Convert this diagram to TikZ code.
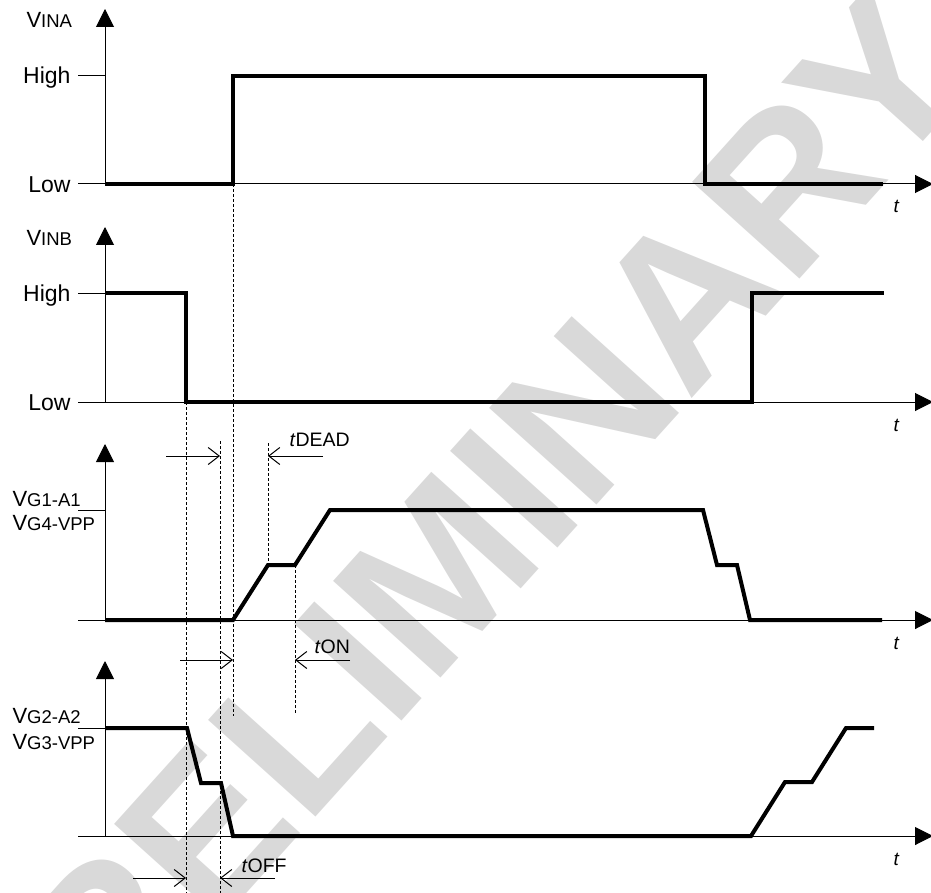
\documentclass[tikz,border=0pt]{standalone}
\usepackage{fontspec}
\setmainfont{Liberation Sans}
\usetikzlibrary{arrows.meta, backgrounds}

\newcommand{\vsig}[1]{{\fontsize{22}{24}\selectfont V\fontsize{18.5}{20}\selectfont #1}}

\begin{document}
\begin{tikzpicture}[
        x=1pt, y=-1pt,
        axis/.style={line width=1pt, -{Triangle[length=18pt, width=18pt]}},
        tick/.style={line width=1pt},
        signal/.style={line width=4pt, line join=miter},
        guide/.style={line width=0.9pt, dash pattern=on 3pt off 2pt},
        dim/.style={line width=1pt, -{Straight Barb[length=11pt, width=17pt]}},
        lvl/.style={anchor=base east, font=\fontsize{23}{25}\selectfont},
        sig/.style={anchor=base west},
        tlab/.style={anchor=base west, font=\fontsize{19}{21}\selectfont\itshape},
        note/.style={anchor=base west, font=\fontsize{19.5}{22}\selectfont}
    ]
        \useasboundingbox (0,0) rectangle (931,893);

        % Watermark
        \begin{scope}[on background layer]
            \node[rotate=48, text=black!15, font=\fontsize{210}{210}\selectfont\bfseries] (draft) at (445,565) {PRELIMINARY};
        \end{scope}

        % Axes
        \foreach \yb/\yt in {184/9, 402/227, 620/444, 836/661} {
            \draw[axis] (105,\yb) -- (105,\yt);
            \draw[axis] (78,\yb) -- (933,\yb);
            \node[tlab] (t\yb) at (890,\yb+29) {t};
        }

        % Input A
        \node[sig] (ina) at (23,28) {\vsig{INA}};
        \node[lvl] (ina high) at (74,84) {High};
        \node[lvl] (ina low) at (74,193) {Low};
        \draw[tick] (78,76) -- (105,76);
        \draw[signal] (105,184) -- (233,184) -- (233,76) -- (705,76) -- (705,184) -- (883,184);

        % Input B
        \node[sig] (inb) at (23,246) {\vsig{INB}};
        \node[lvl] (inb high) at (74,301) {High};
        \node[lvl] (inb low) at (74,410) {Low};
        \draw[tick] (78,293) -- (105,293);
        \draw[signal] (105,293) -- (186,293) -- (186,402) -- (752,402) -- (752,293) -- (884,293);

        % Gate 1/4
        \node[sig] (g14 top) at (9,506) {\vsig{G1-A1}};
        \node[sig] (g14 bot) at (9,530) {\vsig{G4-VPP}};
        \draw[tick] (78,510) -- (105,510);
        \draw[signal] (105,620) -- (233,620) -- (268,565) -- (295,565) -- (330,510) -- (703,510)
            -- (717,565) -- (737,565) -- (750,620) -- (882,620);

        % Gate 2/3
        \node[sig] (g23 top) at (9,723) {\vsig{G2-A2}};
        \node[sig] (g23 bot) at (9,749) {\vsig{G3-VPP}};
        \draw[tick] (78,728) -- (105,728);
        \draw[signal] (105,728) -- (187,728) -- (201,783) -- (221,783) -- (233,836) -- (751,836)
            -- (785,782) -- (812,782) -- (846,728) -- (874,728);

        % Guides
        \draw[guide] (233,184) -- (233,716);
        \draw[guide] (186,402) -- (186,893);
        \draw[guide] (220,441) -- (220,893);
        \draw[guide] (268,443) -- (268,565);
        \draw[guide] (295,565) -- (295,713);

        % Timing marks
        \coordinate (dead a) at (220,456);
        \coordinate (dead b) at (268,456);
        \coordinate (on a) at (233,660);
        \coordinate (on b) at (295,660);
        \coordinate (off a) at (186,878);
        \coordinate (off b) at (220,878);
        \draw[dim] (166,456) -- (dead a);
        \draw[dim] (323,456) -- (dead b);
        \draw[dim] (180,660) -- (on a);
        \draw[dim] (350,660) -- (on b);
        \draw[dim] (133,878) -- (off a);
        \draw[dim] (275,878) -- (off b);
        \node[note] (tdead) at (286,446) {\textit{t}DEAD};
        \node[note] (ton) at (311,653) {\textit{t}ON};
        \node[note] (toff) at (238,872) {\textit{t}OFF};
    \end{tikzpicture}
\end{document}
